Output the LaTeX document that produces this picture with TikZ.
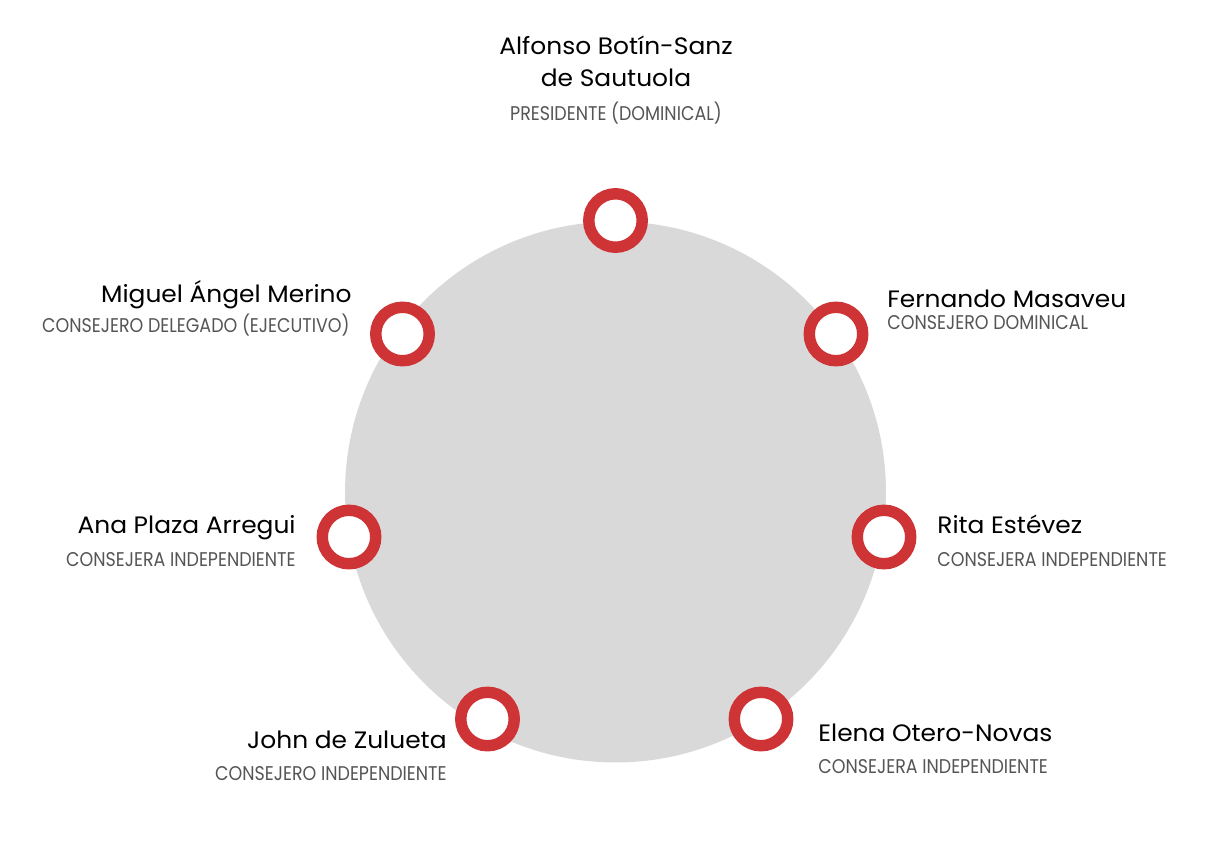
\documentclass[tikz,border=0pt]{standalone}
\usepackage{fontspec}
\usepackage{tikz}
\usetikzlibrary{positioning}
\newfontfamily\namefont{Poppins}[FakeStretch=1.05]
\newfontfamily\rolefont{Poppins}[FakeStretch=0.88]
\definecolor{ringred}{RGB}{206,51,54}
\definecolor{tablegrey}{RGB}{217,217,217}
\definecolor{rolegrey}{RGB}{85,85,85}

\begin{document}
\begin{tikzpicture}[x=0.02cm, y=-0.02cm,
    seat/.style={circle, draw=ringred, fill=white, line width=6.5pt, minimum size=1.07cm, inner sep=0pt},
    person/.style={font=\namefont\fontsize{13.5}{18}\selectfont, text=black, inner sep=0pt},
    role/.style={font=\rolefont\fontsize{11.3}{13}\selectfont, text=rolegrey, inner sep=0pt}]

% Lienzo
\useasboundingbox (0,0) rectangle (1210,859);

% Mesa
\fill[tablegrey] (615.5,492) circle (5.41cm);

% Asientos
\node[seat] (s1) at (615.5,220.5) {};
\node[seat] (s2) at (836,334) {};
\node[seat] (s3) at (884,537) {};
\node[seat] (s4) at (761,719) {};
\node[seat] (s5) at (487.5,719) {};
\node[seat] (s6) at (349,537) {};
\node[seat] (s7) at (402.5,334) {};

% Consejeros
\node[person, anchor=base, align=center] (n1) at (616,86) {Alfonso Botín-Sanz\\de Sautuola};
\node[role, anchor=base] (r1) at (616,120) {PRESIDENTE (DOMINICAL)};

\node[person, anchor=base west] (n2) at (887,307) {Fernando Masaveu};
\node[role, anchor=base west] (r2) at (887,329) {CONSEJERO DOMINICAL};

\node[person, anchor=base west] (n3) at (937,533) {Rita Estévez};
\node[role, anchor=base west] (r3) at (937,566) {CONSEJERA INDEPENDIENTE};

\node[person, anchor=base west] (n4) at (818,741) {Elena Otero-Novas};
\node[role, anchor=base west] (r4) at (818,773) {CONSEJERA INDEPENDIENTE};

\node[person, anchor=base east] (n5) at (447,748) {John de Zulueta};
\node[role, anchor=base east] (r5) at (447,780) {CONSEJERO INDEPENDIENTE};

\node[person, anchor=base east] (n6) at (296,533) {Ana Plaza Arregui};
\node[role, anchor=base east] (r6) at (296,566) {CONSEJERA INDEPENDIENTE};

\node[person, anchor=base east] (n7) at (352,302) {Miguel Ángel Merino};
\node[role, anchor=base east] (r7) at (350,332) {CONSEJERO DELEGADO (EJECUTIVO)};

\end{tikzpicture}
\end{document}
